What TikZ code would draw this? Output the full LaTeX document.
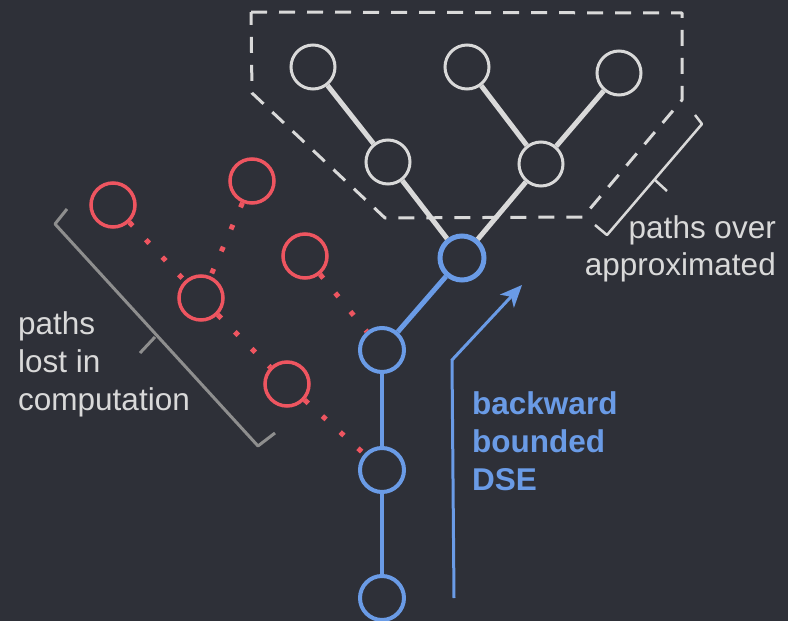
\documentclass[tikz,border=0pt]{standalone}
\usepackage{fontspec}
\setmainfont{Liberation Sans}
\usetikzlibrary{arrows.meta}
\definecolor{bg}{HTML}{2E3038}
\definecolor{lgray}{HTML}{D9D9D9}
\definecolor{dgray}{HTML}{8E8E8E}
\definecolor{rednode}{HTML}{EE5560}
\definecolor{bluenode}{HTML}{6A9BE6}
\tikzset{
  wnode/.style={circle, draw=lgray, line width=3pt, minimum size=44pt, inner sep=0pt},
  rnode/.style={circle, draw=rednode, line width=3.5pt, minimum size=44pt, inner sep=0pt},
  bnode/.style={circle, draw=bluenode, line width=4pt, minimum size=44pt, inner sep=0pt},
  wedge/.style={draw=lgray, line width=5pt},
  bedge/.style={draw=bluenode, line width=4.5pt},
  redot/.style={draw=rednode, line width=5pt, dash pattern=on 5pt off 19pt},
  bracketw/.style={draw=lgray, line width=2.5pt, line join=round},
  bracketg/.style={draw=dgray, line width=3pt, line join=round},
  lbl/.style={font=\fontsize{31.5pt}{38pt}\selectfont, inner sep=0pt},
}
\begin{document}
\begin{tikzpicture}[x=1pt, y=-1pt]
\fill[bg] (0,0) rectangle (788,621);
\useasboundingbox (0,0) rectangle (788,621);

% dashed region
\draw[lgray, line width=3pt, dash pattern=on 16pt off 12pt, line join=round]
  (251,12) -- (682,13) -- (682,100) -- (583,217) -- (385,218) -- (252,93) -- cycle;

% white nodes
\node[wnode] (w1) at (313,67) {};
\node[wnode] (w2) at (467,67) {};
\node[wnode] (w3) at (619,73) {};
\node[wnode] (w4) at (388,162) {};
\node[wnode] (w5) at (541,164) {};

% blue nodes
\node[bnode, line width=5pt] (b1) at (462,258) {};
\node[bnode] (b2) at (382,350) {};
\node[bnode] (b3) at (382,470) {};
\node[bnode] (b4) at (382,598) {};

% red nodes
\node[rnode] (r1) at (113,205) {};
\node[rnode] (r2) at (252,181) {};
\node[rnode] (r3) at (305,256) {};
\node[rnode] (r4) at (201,298) {};
\node[rnode] (r5) at (287,384) {};

% white edges
\draw[wedge] (w1) -- (w4);
\draw[wedge] (w4) -- (b1);
\draw[wedge] (w2) -- (w5);
\draw[wedge] (w3) -- (w5);
\draw[wedge] (w5) -- (b1);

% blue edges
\draw[bedge, line width=5pt] (b1) -- (b2);
\draw[bedge] (b2) -- (b3);
\draw[bedge] (b3) -- (b4);

% red dotted edges
\draw[redot] (r1) -- (r4);
\draw[redot] (r2) -- (r4);
\draw[redot] (r4) -- (r5);
\draw[redot] (r3) -- (b2);
\draw[redot] (r5) -- (b3);

% brackets
\draw[bracketg] (67,209) -- (55,224) -- (258,446) -- (275,433);
\draw[bracketg] (155,337) -- (140,353);
\draw[bracketw] (695,115) -- (702,124) -- (607,235) -- (595,225);
\draw[bracketw] (655,180) -- (667,191);

% blue arrow
\coordinate (as) at (454,598);
\coordinate (ab) at (452,360);
\coordinate (at) at (522,285);
\draw[bluenode, line width=3pt, -{Stealth[length=22pt, width=19pt, inset=6pt]}] (as) -- (ab) -- (at);

% labels (base anchor = baseline of last line)
\node[lbl, text=bluenode, font=\fontsize{31.5pt}{38pt}\selectfont\bfseries, anchor=base west, align=left] (tb) at (472,490) {backward\\bounded\\DSE};
\node[lbl, text=lgray, anchor=base west, align=left] (tl) at (18,410) {paths\\lost in\\computation};
\node[lbl, text=lgray, font=\fontsize{31.5pt}{36.5pt}\selectfont, anchor=base east, align=right] (tr) at (776,275) {paths over\\approximated};
\end{tikzpicture}
\end{document}
